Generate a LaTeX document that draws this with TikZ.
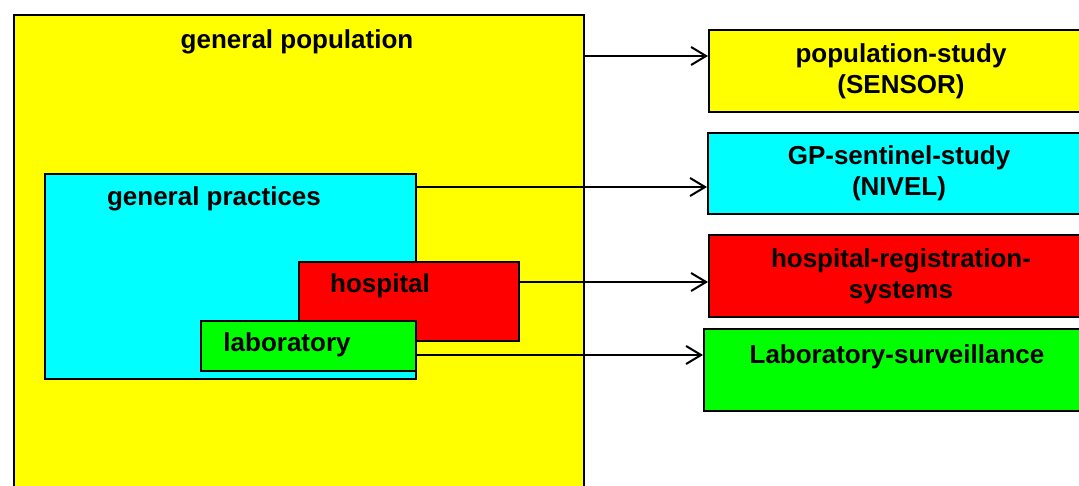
\documentclass[tikz,border=0pt]{standalone}
\usepackage{fontspec}
\setmainfont{Liberation Sans}
\usetikzlibrary{arrows.meta}
\definecolor{cYellow}{RGB}{255,255,0}
\definecolor{cCyan}{RGB}{0,255,255}
\definecolor{cRed}{RGB}{255,0,0}
\definecolor{cGreen}{RGB}{0,255,0}
\begin{document}
\begin{tikzpicture}[x=1pt,y=-1pt,
  box/.style={draw=black, line width=2pt, rectangle, inner sep=0pt, anchor=north west},
  lbl/.style={font=\fontsize{26}{31}\selectfont\bfseries, inner sep=0pt, align=center},
  rbox/.style={box, font=\fontsize{26}{31}\selectfont\bfseries, align=center},
  arr/.style={line width=2pt, -{Straight Barb[length=15pt,width=18pt,line width=2pt]}}
]
\useasboundingbox (0,0) rectangle (1079,486);
% left nested boxes
\node[box, fill=cYellow, minimum width=570pt, minimum height=500pt] (pop) at (13,14) {};
\node[box, fill=cCyan, minimum width=371pt, minimum height=205pt] (gp) at (44,173) {};
\node[box, fill=cRed, minimum width=220pt, minimum height=79pt] (hosp) at (298,261) {};
\node[box, fill=cGreen, minimum width=215pt, minimum height=50pt] (lab) at (200,320) {};
\node[lbl, anchor=base] (poptxt) at (297,49) {general population};
\node[lbl, anchor=base] (gptxt) at (214,206) {general practices};
\node[lbl, anchor=base] (hosptxt) at (380,293) {hospital};
\node[lbl, anchor=base] (labtxt) at (287,352) {laboratory};
% right boxes
\node[rbox, fill=cYellow, minimum width=384pt, minimum height=82pt] (ps) at (708,29) {population-study\\(SENSOR)};
\node[rbox, fill=cCyan, minimum width=382pt, minimum height=81pt] (gs) at (707,132) {GP-sentinel-study\\(NIVEL)};
\node[rbox, fill=cRed, minimum width=384pt, minimum height=82pt] (hr) at (708,234) {hospital-registration-\\systems};
\node[rbox, fill=cGreen, minimum width=386pt, minimum height=82pt] (ls) at (703,328) {Laboratory-surveillance\\\mbox{}};
% connectors
\draw[arr] (pop.east |- 0,56) -- (ps.west |- 0,56);
\draw[arr] (gp.east |- 0,187) -- (gs.west |- 0,187);
\draw[arr] (hosp.east |- 0,282) -- (hr.west |- 0,282);
\draw[arr] (lab.east |- 0,355) -- (ls.west |- 0,355);
\end{tikzpicture}
\end{document}
